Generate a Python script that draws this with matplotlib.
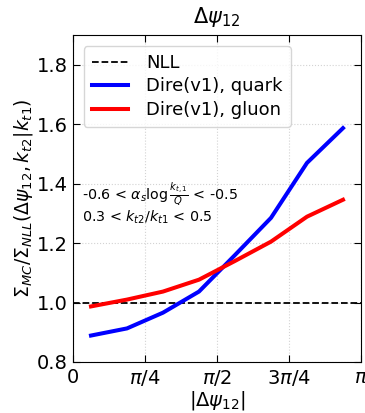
import numpy as np
import matplotlib
matplotlib.use("Agg")
import matplotlib.pyplot as plt

# data
x_centers = [(2 * i + 1) * np.pi / 16 for i in range(8)]
quark = [0.889, 0.913, 0.966, 1.037, 1.160, 1.285, 1.470, 1.587]
gluon = [0.987, 1.010, 1.037, 1.077, 1.140, 1.205, 1.289, 1.346]
nll = 1.0
xticks = [0, np.pi / 4, np.pi / 2, 3 * np.pi / 4, np.pi]
xticklabels = ['0', r'$\pi/4$', r'$\pi/2$', r'$3\pi/4$', r'$\pi$']
yticks = [0.8, 1.0, 1.2, 1.4, 1.6, 1.8]
yticklabels = ['0.8', '1.0', '1.2', '1.4', '1.6', '1.8']

fig = plt.figure(figsize=(3.65, 4.13), dpi=100)
ax = fig.add_axes([0.2, 0.1235, 0.789, 0.7915])

ax.axhline(nll, color='black', ls='--', lw=1.3, label='NLL')
ax.plot(x_centers, quark, color='blue', lw=2.9, label='Dire(v1), quark')
ax.plot(x_centers, gluon, color='red', lw=2.9, label='Dire(v1), gluon')

ax.set_xlim(0, np.pi)
ax.set_ylim(0.8, 1.9)
ax.set_xticks(xticks)
ax.set_xticklabels(xticklabels)
ax.set_yticks(yticks)
ax.set_yticklabels(yticklabels)
ax.tick_params(direction='in', top=True, right=True, labelsize=14, length=5, pad=4)
ax.grid(True, ls=':', color='lightgray', lw=0.8)

ax.set_title(r'$\Delta\psi_{12}$', fontsize=15, pad=9)
ax.set_xlabel(r'$|\Delta\psi_{12}|$', fontsize=14, labelpad=1)
ax.set_ylabel(r'$\Sigma_{MC}/\Sigma_{NLL}(\Delta\psi_{12},k_{t2}|k_{t1})$', fontsize=13.5, labelpad=1)

ax.text(0.03, 0.512, r'-0.6 < $\alpha_s\log\frac{k_{t,1}}{Q}$ < -0.5', transform=ax.transAxes, fontsize=10.3, va='center')
ax.text(0.03, 0.443, r'0.3 < $k_{t2}/k_{t1}$ < 0.5', transform=ax.transAxes, fontsize=10.3, va='center')

ax.legend(loc='upper left', fontsize=13, handlelength=2.0, borderaxespad=0.6,
          framealpha=0.8, labelspacing=0.3, borderpad=0.45, handletextpad=1.0)

fig.savefig('out.png', dpi=100)
